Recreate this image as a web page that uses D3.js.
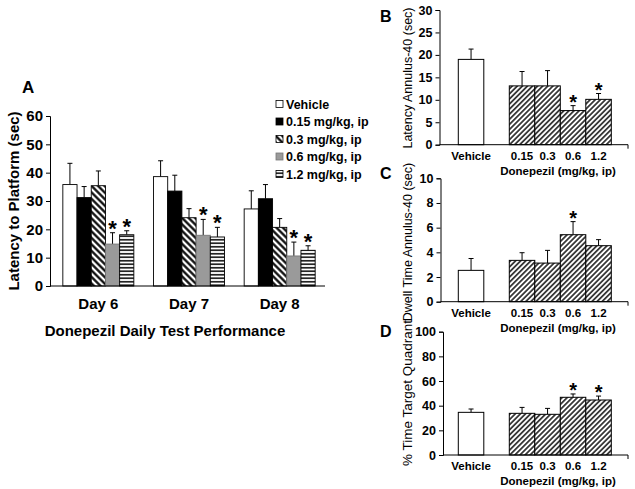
<!DOCTYPE html>
<html><head><meta charset="utf-8">
<script src="https://cdn.jsdelivr.net/npm/d3@7"></script>
<style>
body{margin:0;background:#fff;}
svg{display:block;font-family:"Liberation Sans",Arial,sans-serif;}
</style></head>
<body><svg id="c" width="635" height="489"></svg>
<script>
// ---------- Panel A data ----------
const days = ["Day 6", "Day 7", "Day 8"];
const doseKeys = ["veh", "d015", "d03", "d06", "d12"];
const doseLabels = ["Vehicle", "0.15 mg/kg, ip", "0.3 mg/kg, ip", "0.6 mg/kg, ip", "1.2 mg/kg, ip"];
const latVehicle = [35.8, 38.6, 27.2];
const latD015 = [31.2, 33.5, 30.8];
const latD03 = [35.4, 24.1, 20.7];
const latD06 = [14.8, 17.9, 10.6];
const latD12 = [18.1, 17.3, 12.6];
const errVehicle = [7.5, 5.6, 6.4];
const errD015 = [3.9, 5.6, 5.0];
const errD03 = [5.2, 3.2, 3.1];
const errD06 = [4.0, 5.6, 4.9];
const errD12 = [1.4, 3.4, 1.6];
const starA = ["d06", "d12"];
const yTicksA = [0, 10, 20, 30, 40, 50, 60];

// ---------- Panels B-D data ----------
const doseCats = ["Vehicle", "0.15", "0.3", "0.6", "1.2"];
const annLatency = [19.0, 13.1, 13.1, 7.6, 10.1];
const annLatencyErr = [2.3, 3.2, 3.4, 1.1, 1.3];
const annLatencyStar = [false, false, false, true, true];
const dwellTime = [2.54, 3.35, 3.13, 5.43, 4.54];
const dwellTimeErr = [0.96, 0.62, 1.03, 1.06, 0.49];
const dwellTimeStar = [false, false, false, true, false];
const quadTime = [34.6, 33.8, 33.0, 46.8, 44.6];
const quadTimeErr = [2.7, 4.8, 4.8, 2.7, 3.2];
const quadTimeStar = [false, false, false, true, true];

const svg = d3.select("#c");
const FONT = '"Liberation Sans",Arial,sans-serif';

// ---------- patterns ----------
const defs = svg.append("defs");
function stripePattern(id, size, lw, angle) {
  const p = defs.append("pattern").attr("id", id).attr("patternUnits", "userSpaceOnUse")
    .attr("width", size).attr("height", size).attr("patternTransform", `rotate(${angle})`);
  p.append("rect").attr("width", size).attr("height", size).attr("fill", "#fff");
  p.append("line").attr("x1", size / 2).attr("x2", size / 2).attr("y1", 0).attr("y2", size)
    .attr("stroke", "#000").attr("stroke-width", lw);
}
stripePattern("diagA", 4.6, 2.2, -45);
stripePattern("horizA", 3.5, 1.5, 90);
stripePattern("diagB", 3.6, 1.4, 45);

const fillA = {veh: "#fff", d015: "#000", d03: "url(#diagA)", d06: "#9a9a9a", d12: "url(#horizA)"};

function errBar(g, cx, yTop, yBase, half) {
  g.append("line").attr("x1", cx).attr("x2", cx).attr("y1", yBase).attr("y2", yTop)
    .attr("stroke", "#000").attr("stroke-width", 1);
  g.append("line").attr("x1", cx - half).attr("x2", cx + half).attr("y1", yTop).attr("y2", yTop)
    .attr("stroke", "#000").attr("stroke-width", 1);
}

// ---------- Panel A ----------
const seriesVals = {veh: latVehicle, d015: latD015, d03: latD03, d06: latD06, d12: latD12};
const seriesErr = {veh: errVehicle, d015: errD015, d03: errD03, d06: errD06, d12: errD12};
const yA = d3.scaleLinear().domain([0, 60]).range([286, 116]);
const x0A = d3.scaleBand().domain(days).range([53, 325]).paddingInner(0.217).paddingOuter(0.1085);
const x1A = d3.scaleBand().domain(doseKeys).range([0, x0A.bandwidth()]);
const axisXA = 50;

const gA = svg.append("g");
days.forEach((day, di) => {
  doseKeys.forEach(k => {
    const x = x0A(day) + x1A(k), w = x1A.bandwidth();
    const v = seriesVals[k][di], e = seriesErr[k][di];
    const cx = x + w / 2;
    errBar(gA, cx, yA(v + e), yA(v), 2.5);
    gA.append("rect").attr("x", x).attr("y", yA(v)).attr("width", w).attr("height", yA(0) - yA(v))
      .attr("fill", fillA[k]).attr("stroke", k === "d06" ? "#777" : "#000").attr("stroke-width", 0.9);
    if (starA.includes(k)) {
      gA.append("text").attr("x", cx).attr("y", yA(v + e) + 3).attr("text-anchor", "middle")
        .attr("font-size", 22).attr("font-weight", "bold").text("*");
    }
  });
});
// axes A
const yAxA = svg.append("g").attr("transform", `translate(${axisXA},0)`)
  .call(d3.axisLeft(yA).tickValues(yTicksA).tickSize(4).tickPadding(3));
yAxA.select(".domain").attr("stroke", "#000");
yAxA.selectAll("text").attr("font-size", 15).attr("font-weight", "bold").attr("font-family", FONT).attr("fill", "#000");
svg.append("line").attr("x1", axisXA).attr("x2", 325).attr("y1", yA(0)).attr("y2", yA(0)).attr("stroke", "#000");
days.forEach(d => {
  svg.append("text").attr("x", x0A(d) + x0A.bandwidth() / 2).attr("y", 309).attr("text-anchor", "middle")
    .attr("font-size", 15).attr("font-weight", "bold").text(d);
});
svg.append("text").attr("x", 165).attr("y", 336).attr("text-anchor", "middle")
  .attr("font-size", 15).attr("font-weight", "bold").text("Donepezil Daily Test Performance");
svg.append("text").attr("transform", "translate(19,201) rotate(-90)").attr("text-anchor", "middle")
  .attr("font-size", 15).attr("font-weight", "bold").text("Latency to Platform (sec)");
svg.append("text").attr("x", 22).attr("y", 93).attr("font-size", 17).attr("font-weight", "bold").text("A");

// legend
const legY = d3.scaleLinear().domain([0, 4]).range([104, 174]);
doseKeys.forEach((k, i) => {
  const y = legY(i);
  svg.append("rect").attr("x", 276).attr("y", y - 3.5).attr("width", 7).attr("height", 7)
    .attr("fill", fillA[k]).attr("stroke", k === "d06" ? "#777" : "#000").attr("stroke-width", 0.8);
  svg.append("text").attr("x", 286).attr("y", y + 4.5).attr("font-size", 12.5).attr("font-weight", "bold")
    .text(doseLabels[i]);
});

// ---------- Panels B-D ----------
const slots = ["Vehicle", "gap", "0.15", "0.3", "0.6", "1.2"];
const xS = d3.scaleBand().domain(slots).range([458.3, 611.3]).padding(0);

function smallPanel(opts) {
  const {vals, errs, stars, domain, ticks, top, bottom, axisX, letter, letterY, ylabel, ylabelY, ylabelSize} = opts;
  const y = d3.scaleLinear().domain(domain).range([bottom, top]);
  const g = svg.append("g");
  doseCats.forEach((c, i) => {
    const x = xS(c), w = xS.bandwidth(), cx = x + w / 2;
    const v = vals[i], e = errs[i];
    errBar(g, cx, y(v + e), y(v), 2.5);
    g.append("rect").attr("x", x).attr("y", y(v)).attr("width", w).attr("height", y(0) - y(v))
      .attr("fill", i === 0 ? "#fff" : "url(#diagB)").attr("stroke", "#000").attr("stroke-width", 1);
    if (stars[i]) {
      g.append("text").attr("x", cx).attr("y", y(v + e) + 3).attr("text-anchor", "middle")
        .attr("font-size", 20).attr("font-weight", "bold").text("*");
    }
  });
  const ax = svg.append("g").attr("transform", `translate(${axisX},0)`)
    .call(d3.axisLeft(y).tickValues(ticks).tickSize(4).tickPadding(3));
  ax.select(".domain").attr("stroke", "#000");
  ax.selectAll("text").attr("font-size", 12.5).attr("font-weight", "bold").attr("font-family", FONT).attr("fill", "#000");
  // x axis
  svg.append("line").attr("x1", axisX).attr("x2", 628).attr("y1", y(0)).attr("y2", y(0)).attr("stroke", "#000");
  svg.append("line").attr("x1", 628).attr("x2", 628).attr("y1", y(0)).attr("y2", y(0) + 4).attr("stroke", "#000");
  doseCats.forEach(c => {
    svg.append("text").attr("x", xS(c) + xS.bandwidth() / 2).attr("y", bottom + 15).attr("text-anchor", "middle")
      .attr("font-size", 11.5).attr("font-weight", "bold").text(c);
  });
  svg.append("text").attr("x", 558).attr("y", bottom + 30).attr("text-anchor", "middle")
    .attr("font-size", 11.5).attr("font-weight", "bold").text("Donepezil (mg/kg, ip)");
  svg.append("text").attr("transform", `translate(${412},${ylabelY}) rotate(-90)`).attr("text-anchor", "middle")
    .attr("font-size", ylabelSize).text(ylabel);
  svg.append("text").attr("x", 380).attr("y", letterY).attr("font-size", 16).attr("font-weight", "bold").text(letter);
}

smallPanel({vals: annLatency, errs: annLatencyErr, stars: annLatencyStar, domain: [0, 30],
  ticks: [0, 5, 10, 15, 20, 25, 30], top: 10, bottom: 144.7, axisX: 439.5, letter: "B", letterY: 22,
  ylabel: "Latency Annulus-40 (sec)", ylabelY: 78, ylabelSize: 12.5});
smallPanel({vals: dwellTime, errs: dwellTimeErr, stars: dwellTimeStar, domain: [0, 10],
  ticks: [0, 2, 4, 6, 8, 10], top: 178.3, bottom: 301.7, axisX: 440.5, letter: "C", letterY: 179,
  ylabel: "Dwell Time Annulus-40 (sec)", ylabelY: 242, ylabelSize: 12.5});
smallPanel({vals: quadTime, errs: quadTimeErr, stars: quadTimeStar, domain: [0, 100],
  ticks: [0, 20, 40, 60, 80, 100], top: 331.7, bottom: 455, axisX: 443, letter: "D", letterY: 337,
  ylabel: "% Time Target Quadrant", ylabelY: 393, ylabelSize: 13.5});
</script></body></html>
